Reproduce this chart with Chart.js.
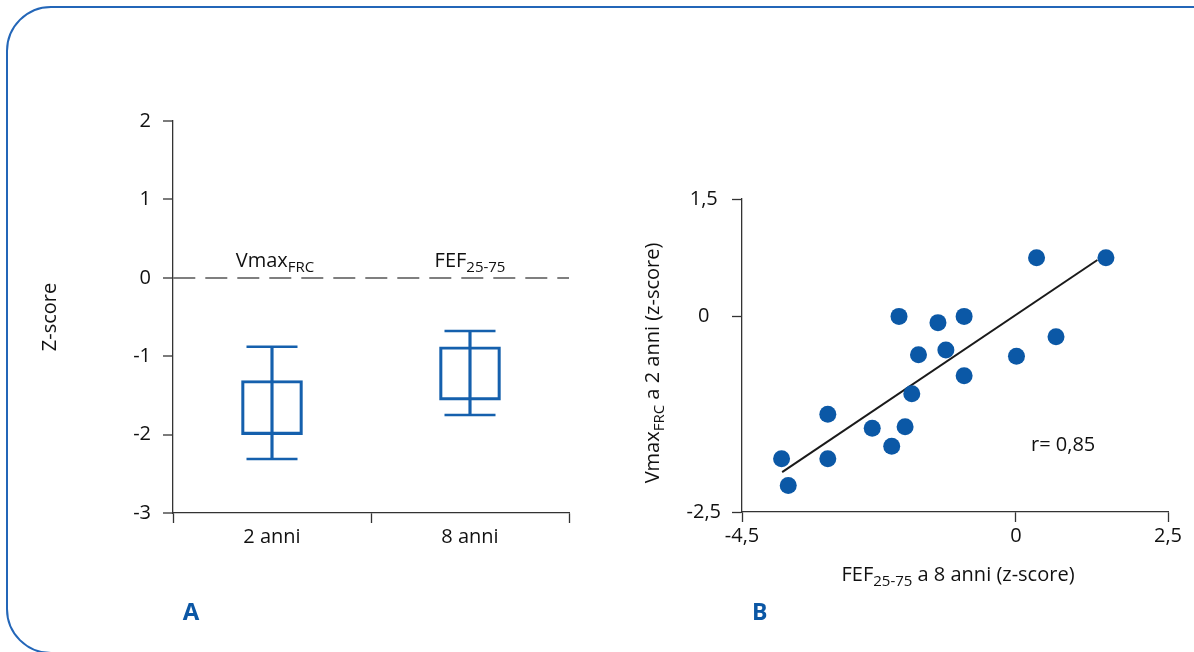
<!DOCTYPE html>
<html>
<head>
<meta charset="utf-8">
<script src="https://cdn.jsdelivr.net/npm/chart.js@4/dist/chart.umd.min.js"></script>
<style>
  html, body { margin: 0; padding: 0; background: #fff; }
  body { width: 1194px; height: 652px; position: relative; overflow: hidden; }
  #frame { position: absolute; left: 6px; top: 6px; width: 1230px; height: 648px;
           border: 2px solid #2366b8; border-radius: 45px; box-sizing: border-box; }
  canvas { position: absolute; top: 0; }
  #boxChart { left: 0; }
  #scatterChart { left: 597px; }
</style>
</head>
<body>
<div id="frame"></div>
<canvas id="boxChart" width="597" height="652"></canvas>
<canvas id="scatterChart" width="597" height="652"></canvas>
<script>
/* Pannello A: z-score a 2 e 8 anni */
const ages = ['2 anni', '8 anni'];
const boxLow = [-2.0, -1.56];
const boxHigh = [-1.31, -0.88];
const whiskerLow = [-2.31, -1.75];
const whiskerHigh = [-0.88, -0.68];
const boxTicks = [-3, -2, -1, 0, 1, 2];

/* Pannello B: FEF25-75 a 8 anni vs Vmax FRC a 2 anni */
const fefX = [-3.85, -3.74, -3.09, -3.09, -2.36, -2.04, -1.82, -1.92, -1.71, -1.60, -1.28, -1.15, -0.85, -0.85, 0.01, 0.34, 0.66, 1.48];
const vmaxY = [-1.82, -2.16, -1.25, -1.82, -1.43, -1.66, -1.41, 0.00, -0.99, -0.49, -0.08, -0.43, 0.00, -0.76, -0.51, 0.75, -0.26, 0.75];
const regX = [-3.84, 1.34];
const regY = [-1.99, 0.72];
const xTicks = [-4.5, 0, 2.5];
const yTicks = [-2.5, 0, 1.5];

const blue = '#1560ad';
const dotBlue = '#0b58a6';
const axisCol = '#333';
const FONT = "'Open Sans', sans-serif";
const SIZE = 20;

// testo con pedici (Vmax_FRC, FEF_25-75)
function drawParts(ctx, parts, x, y, size, align) {
  const subSize = Math.round(size * 0.75);
  let total = 0;
  parts.forEach(p => {
    ctx.font = (p.sub ? subSize : size) + 'px ' + FONT;
    p.w = ctx.measureText(p.t).width;
    total += p.w;
  });
  let cx = align === 'center' ? x - total / 2 : x;
  ctx.textAlign = 'left';
  ctx.textBaseline = 'alphabetic';
  parts.forEach(p => {
    ctx.font = (p.sub ? subSize : size) + 'px ' + FONT;
    ctx.fillText(p.t, cx, p.sub ? y + 5 : y);
    cx += p.w;
  });
}

const boxText = {
  id: 'boxText',
  afterDraw(chart) {
    const ctx = chart.ctx;
    const xs = chart.scales.x, ys = chart.scales.y;
    ctx.save();
    ctx.fillStyle = '#111';
    const y0 = ys.getPixelForValue(0) - 11;
    drawParts(ctx, [{t: 'Vmax'}, {t: 'FRC', sub: true}], xs.getPixelForValue(0) + 3, y0, SIZE, 'center');
    drawParts(ctx, [{t: 'FEF'}, {t: '25-75', sub: true}], xs.getPixelForValue(1), y0, SIZE, 'center');
    // titolo asse y
    ctx.translate(50, (chart.chartArea.top + chart.chartArea.bottom) / 2);
    ctx.rotate(-Math.PI / 2);
    ctx.font = SIZE + 'px ' + FONT;
    ctx.textAlign = 'center';
    ctx.textBaseline = 'middle';
    ctx.fillText('Z-score', 0, 0);
    ctx.restore();
    ctx.save();
    ctx.fillStyle = '#0b57a5';
    ctx.font = 'bold 24px ' + FONT;
    ctx.textAlign = 'center';
    ctx.fillText('A', 191, 620);
    ctx.restore();
  }
};

const scatterText = {
  id: 'scatterText',
  afterDraw(chart) {
    const ctx = chart.ctx;
    ctx.save();
    ctx.fillStyle = '#111';
    drawParts(ctx, [{t: 'FEF'}, {t: '25-75', sub: true}, {t: ' a 8 anni (z-score)'}], 361, 581, SIZE, 'center');
    ctx.font = SIZE + 'px ' + FONT;
    ctx.textAlign = 'left';
    ctx.fillText('r= 0,85', 434, 451);
    ctx.save();
    ctx.translate(62, 363);
    ctx.rotate(-Math.PI / 2);
    drawParts(ctx, [{t: 'Vmax'}, {t: 'FRC', sub: true}, {t: ' a 2 anni (z-score)'}], 0, 0, SIZE, 'center');
    ctx.restore();
    ctx.fillStyle = '#0b57a5';
    ctx.font = 'bold 23px ' + FONT;
    ctx.textAlign = 'left';
    ctx.fillText('B', 155, 620);
    ctx.restore();
  }
};

new Chart(document.getElementById('boxChart'), {
  type: 'bar',
  data: {
    labels: ages,
    datasets: [
      {
        label: 'baffi',
        data: ages.map((a, i) => [whiskerLow[i], whiskerHigh[i]]),
        backgroundColor: blue,
        borderWidth: 0,
        barThickness: 2.5,
        grouped: false
      },
      {
        label: 'box',
        data: ages.map((a, i) => [boxLow[i], boxHigh[i]]),
        backgroundColor: 'rgba(255,255,255,0)',
        borderColor: blue,
        borderWidth: 2.5,
        borderSkipped: false,
        barThickness: 61,
        grouped: false
      },
      {
        type: 'line',
        label: 'max',
        data: whiskerHigh,
        showLine: false,
        pointStyle: 'line',
        pointRadius: 25.5,
        pointBorderWidth: 2.5,
        borderColor: blue
      },
      {
        type: 'line',
        label: 'min',
        data: whiskerLow,
        showLine: false,
        pointStyle: 'line',
        pointRadius: 25.5,
        pointBorderWidth: 2.5,
        borderColor: blue
      }
    ]
  },
  options: {
    responsive: false,
    animation: false,
    layout: { padding: { top: 121, right: 25, left: 0, bottom: 0 } },
    plugins: { legend: { display: false }, tooltip: { enabled: false } },
    scales: {
      x: {
        offset: true,
        afterFit: s => { s.height = 139; },
        grid: { offset: true, color: 'rgba(0,0,0,0)', tickColor: axisCol, tickLength: 10, tickWidth: 1.3 },
        border: { color: axisCol, width: 1.3 },
        ticks: { color: '#111', font: { family: FONT, size: SIZE }, padding: 2 }
      },
      y: {
        min: -3,
        max: 2,
        afterFit: s => { s.width = 173; },
        afterBuildTicks: s => { s.ticks = boxTicks.map(v => ({ value: v })); },
        grid: {
          color: c => (c.tick && c.tick.value === 0 ? '#7f7f7f' : 'rgba(0,0,0,0)'),
          lineWidth: 2,
          tickColor: axisCol,
          tickWidth: 1.3,
          tickLength: 10
        },
        border: { color: axisCol, width: 1.3, dash: [22, 10] },
        ticks: { color: '#111', font: { family: FONT, size: SIZE }, padding: 12 }
      }
    }
  },
  plugins: [boxText]
});

new Chart(document.getElementById('scatterChart'), {
  type: 'scatter',
  data: {
    datasets: [
      {
        label: 'soggetti',
        data: fefX.map((x, i) => ({ x: x, y: vmaxY[i] })),
        backgroundColor: dotBlue,
        borderColor: dotBlue,
        pointRadius: 8.5,
        borderWidth: 0
      },
      {
        type: 'line',
        label: 'regressione',
        data: regX.map((x, i) => ({ x: x, y: regY[i] })),
        borderColor: '#1a1a1a',
        borderWidth: 2,
        pointRadius: 0,
        fill: false
      }
    ]
  },
  options: {
    responsive: false,
    animation: false,
    layout: { padding: { top: 199, right: 26, left: 0, bottom: 0 } },
    plugins: { legend: { display: false }, tooltip: { enabled: false } },
    scales: {
      x: {
        type: 'linear',
        min: -4.5,
        max: 2.5,
        afterFit: s => { s.height = 140; },
        afterBuildTicks: s => { s.ticks = xTicks.map(v => ({ value: v })); },
        grid: { color: 'rgba(0,0,0,0)', tickColor: axisCol, tickLength: 10, tickWidth: 1.3 },
        border: { color: axisCol, width: 1.3 },
        ticks: { color: '#111', font: { family: FONT, size: SIZE }, padding: 2,
                 callback: v => String(v).replace('.', ',') }
      },
      y: {
        type: 'linear',
        min: -2.5,
        max: 1.5,
        afterFit: s => { s.width = 145; },
        afterBuildTicks: s => { s.ticks = yTicks.map(v => ({ value: v })); },
        grid: { color: 'rgba(0,0,0,0)', tickColor: axisCol, tickLength: 10, tickWidth: 1.3 },
        border: { color: axisCol, width: 1.3 },
        ticks: { color: '#111', font: { family: FONT, size: SIZE }, padding: 11, crossAlign: 'center',
                 callback: v => String(v).replace('.', ',') }
      }
    }
  },
  plugins: [scatterText]
});
</script>
</body>
</html>
